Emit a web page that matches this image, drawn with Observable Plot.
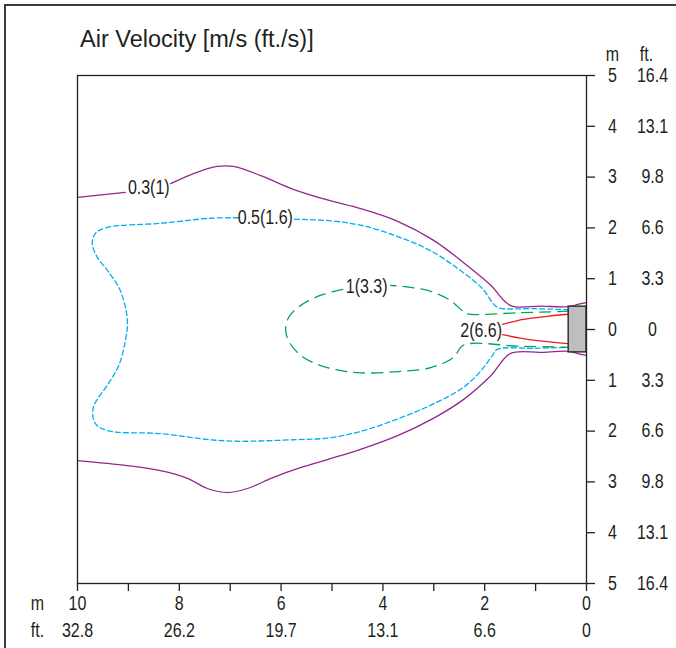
<!DOCTYPE html>
<html><head><meta charset="utf-8">
<script src="https://cdn.jsdelivr.net/npm/d3@7"></script>
<script src="https://cdn.jsdelivr.net/npm/@observablehq/plot@0.6"></script>
<style>
body{margin:0;background:#fff;}
#wrap{position:relative;width:676px;height:648px;overflow:hidden;background:#fff;}
#border{position:absolute;left:4px;top:4px;width:800px;height:800px;border-left:2px solid #3c3c3c;border-top:2px solid #3c3c3c;}
#title{position:absolute;left:80px;top:26px;font:23.5px "Liberation Sans",Arial,sans-serif;color:#231f20;white-space:nowrap;}
</style></head><body>
<div id="wrap"><div id="chart"></div><div id="border"></div><div id="title">Air Velocity [m/s (ft./s)]</div></div>
<script>
// Tick values and labels
const xTicks = [10,9,8,7,6,5,4,3,2,1,0];
const xLabelsM = [10,8,6,4,2,0];
const xLabelsFt = ["32.8","26.2","19.7","13.1","6.6","0"];
const yTicks = [5,4,3,2,1,0,-1,-2,-3,-4,-5];
const yLabelsM = ["5","4","3","2","1","0","1","2","3","4","5"];
const yLabelsFt = ["16.4","13.1","9.8","6.6","3.3","0","3.3","6.6","9.8","13.1","16.4"];

// Contours [x (m from outlet), y (m lateral), segment]
const contour03Upper = [[10,2.60,"a"],[9.06,2.70,"a"],
  [8.17,2.87,"b"],[7.72,3.07,"b"],[7.25,3.21,"b"],[6.94,3.21,"b"],[6.40,3.03,"b"],[5.76,2.76,"b"],[5.09,2.55,"b"],[4.44,2.38,"b"],[3.71,2.13,"b"],[3.01,1.76,"b"],[2.42,1.32,"b"],[1.89,0.88,"b"],[1.49,0.47,"b"],[0.9,0.46,"b"],[0.35,0.45,"b"],[0.15,0.50,"b"],[0,0.53,"b"]];
const contour03Lower = [[10,-2.58,"a"],[9.02,-2.68,"a"],[8.37,-2.78,"a"],[7.84,-2.93,"a"],[7.45,-3.13,"a"],[7.05,-3.21,"a"],[6.66,-3.13,"a"],[6.15,-2.91,"a"],[5.62,-2.72,"a"],[5.09,-2.56,"a"],[4.44,-2.36,"a"],[3.71,-2.09,"a"],[3.01,-1.75,"a"],[2.42,-1.38,"a"],[1.89,-0.92,"a"],[1.49,-0.47,"a"],[0.9,-0.45,"a"],[0.35,-0.43,"a"],[0.15,-0.48,"a"],[0,-0.51,"a"]];
const contour05 = [[0.35,0.39,"a"],[1.0,0.41,"a"],[1.73,0.43,"a"],[1.84,0.52,"a"],[2.04,0.80,"a"],[2.42,1.12,"a"],[3.06,1.55,"a"],[3.71,1.83,"a"],[4.38,2.04,"a"],[5.03,2.14,"a"],[5.78,2.17,"a"],
  [6.84,2.20,"b"],[7.39,2.19,"b"],[8.37,2.09,"b"],[9.41,2.01,"b"],[9.65,1.89,"b"],[9.71,1.69,"b"],[9.61,1.42,"b"],[9.41,1.16,"b"],[9.16,0.77,"b"],[9.02,0.18,"b"],[9.06,-0.22,"b"],[9.19,-0.71,"b"],[9.39,-1.06,"b"],[9.69,-1.54,"b"],[9.65,-1.85,"b"],[9.41,-1.99,"b"],[8.37,-2.05,"b"],[7.39,-2.17,"b"],[6.86,-2.20,"b"],[5.76,-2.17,"b"],[5.03,-2.13,"b"],[4.38,-1.99,"b"],[3.71,-1.76,"b"],[3.06,-1.49,"b"],[2.42,-1.14,"b"],[2.08,-0.82,"b"],[1.84,-0.50,"b"],[1.75,-0.39,"b"],[1.0,-0.37,"b"],[0.35,-0.35,"b"]];
const contour1 = [[0.35,0.36,"a"],[1.3,0.33,"a"],[2.34,0.31,"a"],[2.44,0.37,"a"],[2.67,0.57,"a"],[3.12,0.77,"a"],[3.85,0.87,"a"],
  [4.79,0.79,"b"],[5.23,0.67,"b"],[5.62,0.47,"b"],[5.85,0.24,"b"],[5.91,-0.02,"b"],[5.82,-0.28,"b"],[5.56,-0.55,"b"],[5.09,-0.75,"b"],[4.50,-0.85,"b"],[3.71,-0.83,"b"],[3.06,-0.75,"b"],[2.61,-0.55,"b"],[2.42,-0.31,"b"],[1.3,-0.33,"b"],[0.35,-0.35,"b"]];
const contour2Upper = [[1.65,0.10,"a"],[1.24,0.20,"a"],[0.77,0.26,"a"],[0.35,0.30,"a"]];
const contour2Lower = [[1.65,-0.10,"a"],[1.24,-0.18,"a"],[0.77,-0.24,"a"],[0.35,-0.28,"a"]];
const nozzle = [{x1:0.35, x2:0, y1:-0.45, y2:0.45}];
const contourLabels = [
  {x:8.60, y:2.80, t:"0.3(1)"},
  {x:6.31, y:2.19, t:"0.5(1.6)"},
  {x:4.32, y:0.84, t:"1(3.3)"},
  {x:2.07, y:-0.02, t:"2(6.6)"}
];

const ink = "#231f20";
const purple = "#92278f", cyan = "#00aeef", green = "#00a651", red = "#ed1c24";
const font = '"Liberation Sans",Arial,sans-serif';
const X = d => d[0], Y = d => d[1], Z = d => d[2];
const lineOpts = (stroke, dash) => ({x: X, y: Y, z: Z, stroke, strokeWidth: 1.3, strokeDasharray: dash, curve: "catmull-rom"});

const chart = Plot.plot({
  width: 676, height: 648,
  marginLeft: 77, marginRight: 90, marginTop: 75, marginBottom: 65,
  x: {domain: [10, 0]},
  y: {domain: [-5, 5]},
  style: {fontFamily: font, fontSize: "19.5px", color: ink, background: "transparent"},
  marks: [
    Plot.line(contour03Upper, lineOpts(purple)),
    Plot.line(contour03Lower, lineOpts(purple)),
    Plot.line(contour05, lineOpts(cyan, "5,3")),
    Plot.line(contour1, lineOpts(green, "11,7")),
    Plot.line(contour2Upper, lineOpts(red)),
    Plot.line(contour2Lower, lineOpts(red)),
    Plot.rect(nozzle, {x1: "x1", x2: "x2", y1: "y1", y2: "y2", fill: "#bcbec0", stroke: "#333", strokeWidth: 1.5}),
    Plot.text(contourLabels, {x: "x", y: "y", text: "t", fill: ink, fontSize: 19.5}),
    Plot.frame({stroke: ink, strokeWidth: 1.3}),
    Plot.axisX({anchor: "bottom", ticks: xTicks, tickSize: 8, stroke: ink, strokeWidth: 1.3, fill: "none", label: null}),
    Plot.axisY({anchor: "right", ticks: yTicks, tickSize: 8, stroke: ink, strokeWidth: 1.3, fill: "none", label: null}),
    Plot.text(xLabelsM, {x: d => d, text: d => String(d), frameAnchor: "bottom", dy: 20, lineAnchor: "middle", fill: ink}),
    Plot.text(xLabelsM, {x: d => d, text: (d, i) => xLabelsFt[i], frameAnchor: "bottom", dy: 47, lineAnchor: "middle", fill: ink}),
    Plot.text(["m"], {text: d => d, frameAnchor: "bottom-left", dx: -40, dy: 20, textAnchor: "middle", lineAnchor: "middle", fill: ink}),
    Plot.text(["ft."], {text: d => d, frameAnchor: "bottom-left", dx: -40, dy: 47, textAnchor: "middle", lineAnchor: "middle", fill: ink}),
    Plot.text(yTicks, {y: d => d, text: (d, i) => yLabelsM[i], frameAnchor: "right", dx: 26, textAnchor: "middle", fill: ink}),
    Plot.text(yTicks, {y: d => d, text: (d, i) => yLabelsFt[i], frameAnchor: "right", dx: 66, textAnchor: "middle", fill: ink}),
    Plot.text(["m"], {text: d => d, frameAnchor: "top-right", dx: 26, dy: -21, textAnchor: "middle", lineAnchor: "middle", fill: ink}),
    Plot.text(["ft."], {text: d => d, frameAnchor: "top-right", dx: 60, dy: -21, textAnchor: "middle", lineAnchor: "middle", fill: ink})
  ]
});
document.getElementById("chart").appendChild(chart);
// Condense the text glyphs to mimic a narrow typeface
chart.querySelectorAll("text").forEach(t => {
  const w = t.getComputedTextLength();
  if (w > 0) {
    t.setAttribute("textLength", (w * 0.82).toFixed(2));
    t.setAttribute("lengthAdjust", "spacingAndGlyphs");
  }
});
</script>
</body></html>
